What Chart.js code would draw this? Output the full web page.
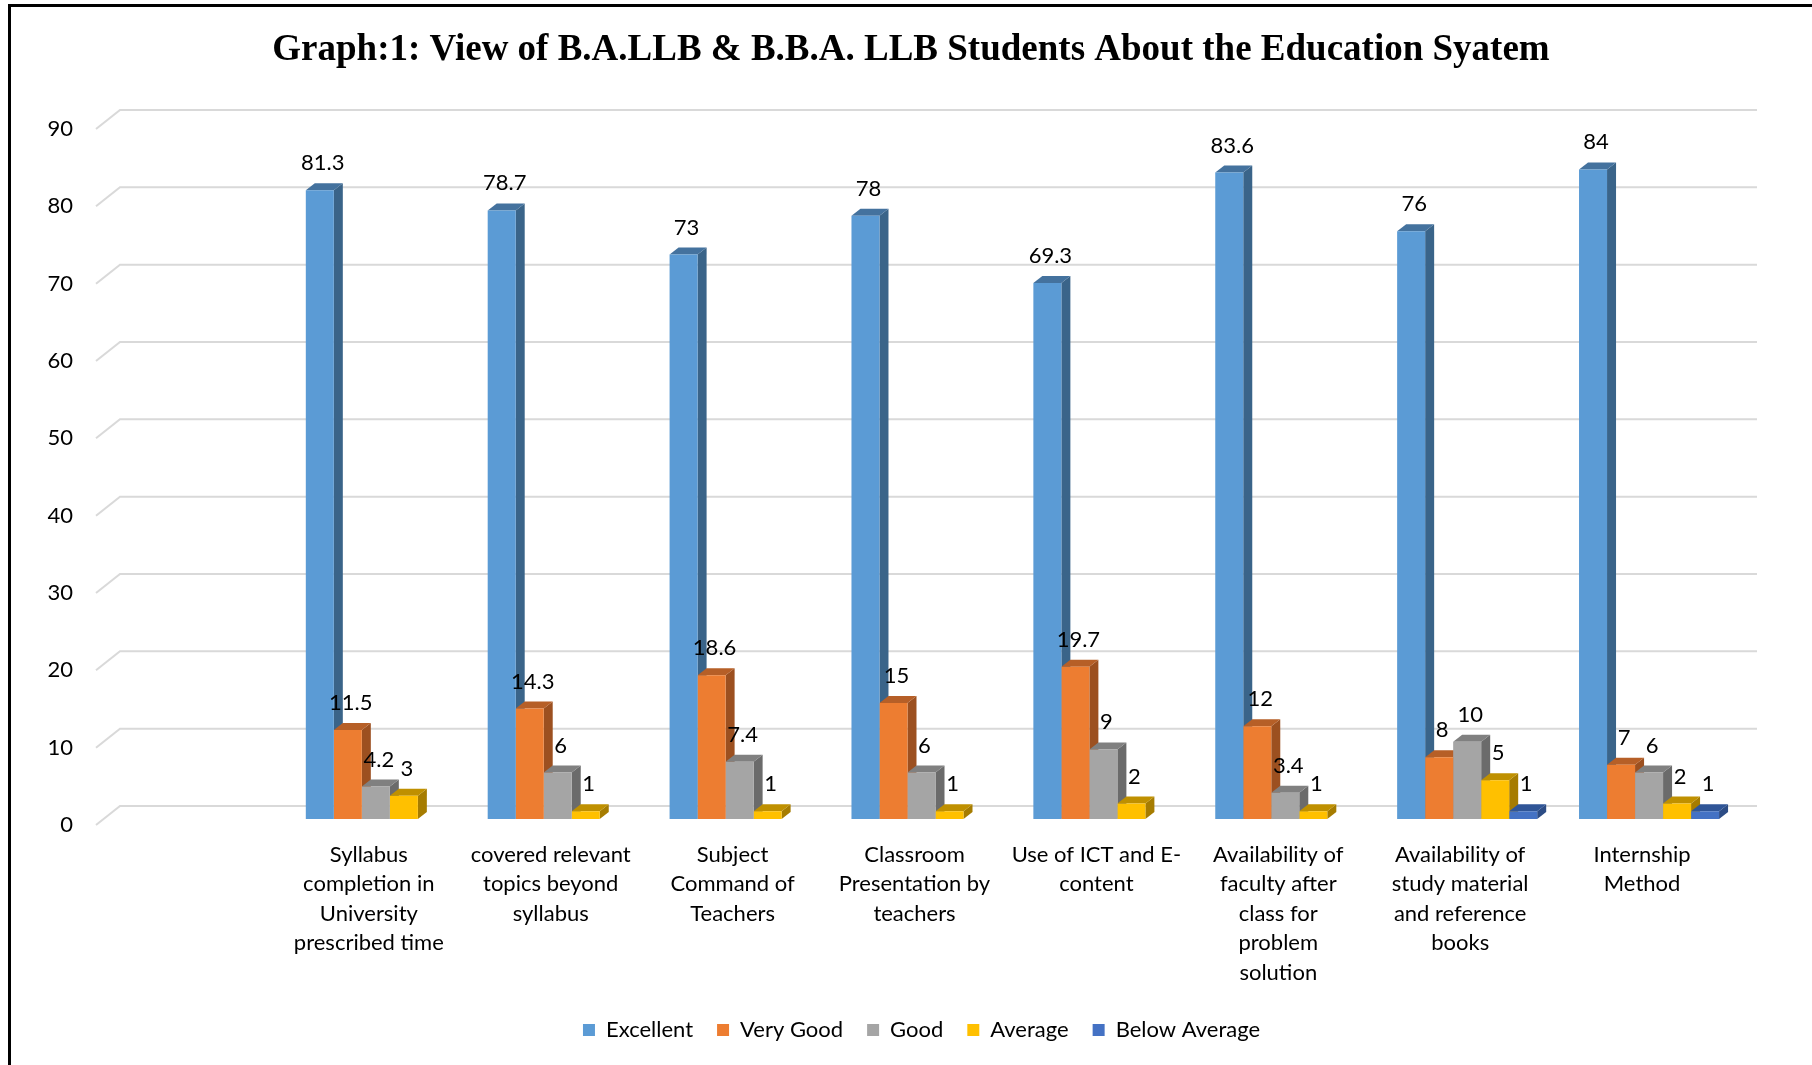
<!DOCTYPE html>
<html>
<head>
<meta charset="utf-8">
<script src="https://cdn.jsdelivr.net/npm/chart.js@4.4.0/dist/chart.umd.min.js"></script>
<style>
  html, body { margin: 0; padding: 0; background: #fff; }
</style>
</head>
<body>
<canvas id="myChart" width="1812" height="1065"></canvas>
<script>
// categories (first slot in the original chart is an empty category)
const categories = [
  ['Syllabus', 'completion in', 'University', 'prescribed time'],
  ['covered relevant', 'topics beyond', 'syllabus'],
  ['Subject', 'Command of', 'Teachers'],
  ['Classroom', 'Presentation by', 'teachers'],
  ['Use of ICT and E-', 'content'],
  ['Availability of', 'faculty after', 'class for', 'problem', 'solution'],
  ['Availability of', 'study material', 'and reference', 'books'],
  ['Internship', 'Method']
];

const excellent    = [81.3, 78.7, 73, 78, 69.3, 83.6, 76, 84];
const veryGood     = [11.5, 14.3, 18.6, 15, 19.7, 12, 8, 7];
const good         = [4.2, 6, 7.4, 6, 9, 3.4, 10, 6];
const average      = [3, 1, 1, 1, 2, 1, 5, 2];
const belowAverage = [null, null, null, null, null, null, 1, 1];

const seriesNames = ['Excellent', 'Very Good', 'Good', 'Average', 'Below Average'];
const yTicks = [0, 10, 20, 30, 40, 50, 60, 70, 80, 90];
const titleText = 'Graph:1: View of B.A.LLB & B.B.A. LLB Students About the Education Syatem';

const frontColors = ['#5B9BD5', '#ED7D31', '#A5A5A5', '#FFC000', '#4472C4'];
const sideColors  = ['#3A6489', '#9C5020', '#6B6B6B', '#A67C00', '#2C4C85'];
const topColors   = ['#44729E', '#B65F27', '#808080', '#BF9000', '#2F5597'];

const font = 'Lato';
const dx = 9, dy = -7;        // bar depth
const fx = -7, fy = 6;        // floor front edge relative to bar plane
const bx = 17, by = -13;      // back wall relative to bar plane

const labels = [''].concat(categories);
const series = [excellent, veryGood, good, average, belowAverage];

const bars3d = {
  id: 'bars3d',
  beforeDraw(chart) {
    const ctx = chart.ctx;
    ctx.save();
    ctx.fillStyle = '#fff';
    ctx.fillRect(0, 0, chart.width, chart.height);
    ctx.restore();
  },
  beforeDatasetsDraw(chart) {
    const ctx = chart.ctx, area = chart.chartArea, ys = chart.scales.y;
    ctx.save();
    // gridlines on the back wall with the slanted floor edge
    ctx.strokeStyle = '#d9d9d9';
    ctx.lineWidth = 2;
    yTicks.forEach(v => {
      const py = ys.getPixelForValue(v);
      ctx.beginPath();
      ctx.moveTo(area.left + fx, py + fy);
      ctx.lineTo(area.left + bx, py + by);
      ctx.lineTo(area.right + bx, py + by);
      ctx.stroke();
    });
    // side and top faces, fronts are drawn by chart.js on top
    chart.data.datasets.forEach((ds, i) => {
      const meta = chart.getDatasetMeta(i);
      meta.data.forEach((bar, j) => {
        if (ds.data[j] == null) return;
        const l = bar.x - bar.width / 2, r = bar.x + bar.width / 2;
        const t = bar.y, b = bar.base;
        ctx.fillStyle = sideColors[i];
        ctx.beginPath();
        ctx.moveTo(r, t); ctx.lineTo(r + dx, t + dy);
        ctx.lineTo(r + dx, b + dy); ctx.lineTo(r, b);
        ctx.closePath(); ctx.fill();
        ctx.fillStyle = topColors[i];
        ctx.beginPath();
        ctx.moveTo(l, t); ctx.lineTo(l + dx, t + dy);
        ctx.lineTo(r + dx, t + dy); ctx.lineTo(r, t);
        ctx.closePath(); ctx.fill();
      });
    });
    ctx.restore();
  },
  afterDatasetsDraw(chart) {
    const ctx = chart.ctx;
    ctx.save();
    ctx.font = '22px ' + font;
    ctx.fillStyle = '#000';
    ctx.textAlign = 'center';
    ctx.textBaseline = 'middle';
    chart.data.datasets.forEach((ds, i) => {
      chart.getDatasetMeta(i).data.forEach((bar, j) => {
        const v = ds.data[j];
        if (v == null) return;
        ctx.fillText(String(v), bar.x + 3, bar.y - 27);
      });
    });
    ctx.restore();
  },
  afterDraw(chart) {
    const ctx = chart.ctx;
    ctx.save();
    // title
    ctx.font = 'bold 37px "Liberation Serif"';
    ctx.fillStyle = '#000';
    ctx.textAlign = 'center';
    ctx.textBaseline = 'middle';
    ctx.fillText(titleText, 911, 50);
    // frame
    ctx.strokeStyle = '#000';
    ctx.lineWidth = 3;
    ctx.beginPath();
    ctx.moveTo(9.5, chart.height);
    ctx.lineTo(9.5, 5.5);
    ctx.lineTo(chart.width, 5.5);
    ctx.stroke();
    ctx.restore();
  }
};

const chart = new Chart(document.getElementById('myChart'), {
  type: 'bar',
  data: {
    labels: labels,
    datasets: seriesNames.map((name, i) => ({
      label: name,
      data: [null].concat(series[i]),
      backgroundColor: frontColors[i],
      borderWidth: 0,
      categoryPercentage: 0.77,
      barPercentage: 1.0
    }))
  },
  options: {
    responsive: false,
    animation: false,
    layout: { padding: { left: 33, right: 72, top: 123, bottom: 14 } },
    scales: {
      x: {
        grid: { display: false, drawTicks: false },
        border: { display: false },
        ticks: {
          autoSkip: false, maxRotation: 0, minRotation: 0,
          color: '#000', padding: 21, labelOffset: fx,
          font: { family: font, size: 22, lineHeight: 1.34 }
        },
        afterFit(scale) { scale.height = 176; }
      },
      y: {
        min: 0, max: 90,
        grid: { display: false, drawTicks: false },
        border: { display: false },
        ticks: {
          stepSize: 10, color: '#000', padding: 30, labelOffset: fy,
          font: { family: font, size: 22 }
        },
        afterFit(scale) { scale.width = 70; }
      }
    },
    plugins: {
      title: { display: false },
      legend: {
        position: 'bottom',
        fullSize: false,
        labels: {
          boxWidth: 12, boxHeight: 12, padding: 24, color: '#000',
          font: { family: font, size: 22 }
        }
      },
      tooltip: { enabled: false }
    }
  },
  plugins: [bars3d]
});
</script>
</body>
</html>
